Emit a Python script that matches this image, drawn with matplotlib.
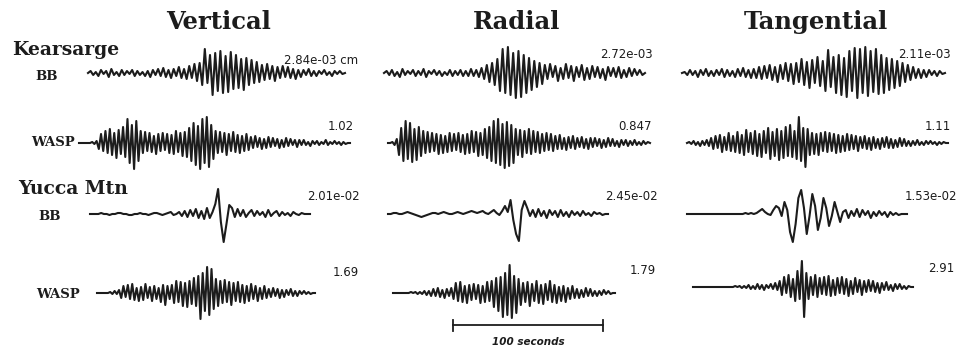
import numpy as np
import matplotlib.pyplot as plt

#---------------Data (trace amplitudes, arbitrary units)---------

components = ["Vertical", "Radial", "Tangential"]
stations = ["Kearsarge", "Yucca Mtn"]
instruments = ["BB", "WASP", "BB", "WASP"]

# peak amplitude printed beside each trace, row by row
amp_labels = [["2.84e-03 cm", "2.72e-03", "2.11e-03"],
              ["1.02", "0.847", "1.11"],
              ["2.01e-02", "2.45e-02", "1.53e-02"],
              ["1.69", "1.79", "2.91"]]

# Kearsarge broadband
kea_bb_vert = [0, 2, -2, 1, -3, 3, -1, 2, -4, 4, -2, 1, -3, 3, -2, 2, -1, 3, -3, 2, -2, 1, -3, 2,
               -4, 3, -2, 4, -3, 5, -4, 3, -5, 4, -3, 6, -5, 4, -6, 7, -5,
               9, -8, 10, -12,
               24, -10, 18, -22, 20, -18, 22, -20, 17, -19, 21, -16, 18, -15, 14, -17, 15, -12, 13, -10, 11,
               -9, 8, -7, 9, -6, 7, -8, 6, -5, 7, -4, 6, -5, 4, -6, 3,
               -4, 3, -2, 4, -3, 2, -3, 2, -1, 3, -2, 1, -3, 2, -1, 2, -1, 0]
kea_bb_rad = [0, 2, -2, 3, -3, 1, -4, 4, -2, 2, -1, 3, -3, 2, -2, 4, -4, 2, -1, 3,
              -2, 2, -3, 1, -2, 3, -3, 2, -2, 3, -3, 2, -3, 4, -3, 3, -4,
              5, -6, 8, -9, 10, -12, 14,
              -18, 24, -20, 26, -22, 20, -25, 22, -24, 18, -20, 15, -17, 12, -14, 10, -11,
              8, -6, 9, -4, 7, -8, 5, -6, 9, -5, 7, -8, 6, -4, 8, -7, 5, -6, 7, -4,
              6, -5, 4, -7, 6, -3, 5, -4, 6, -5, 3, -4, 5, -3, 4, -2, 3, -2, 0]
kea_bb_tan = [0, 1, -2, 3, -2, 2, -4, 3, -2, 4, -3, 2, -3, 3, -2, 4, -4, 3, -3, 2,
              -4, 4, -3, 5, -4, 3, -5, 4, -5, 6,
              -6, 7, -5, 8, -7, 6, -9, 8, -6, 10, -8, 9, -11, 10, -9,
              14, -12, 11, -15, 13, -10, 16, -13, 12, -18, 23, -14,
              16, -20, 18, -22, 15, -24, 22, -18, 25, -25, 24, -20, 26, -23, 22, -19, 24, -21, 18, -20,
              15, -17, 14, -15, 12, -13,
              10, -9, 8, -7, 6, -5, 4, -5, 3, -4, 3, -2, 2, -3, 2, -1, 0]

# Kearsarge WASP
kea_wasp_vert = [0, 0, 0, 0, 0, 0, 1, -1, 2,
                 -6, 9, -8, 12, -10, 14, -12, 10, -15, 13, -11, 16, -14,
                 24, -20, 18, -26, 22, -18,
                 12, -10, 11, -8, 10, -9, 7, -11, 9, -8, 10, -7, 9, -10, 8, -11, 12, -9, 10, -13, 11, -14, 15,
                 -18, 20, -22, 17, -26, 24, -20, 26, -24, 18, -16,
                 12, -10, 11, -9, 10, -12, 9, -8, 11, -9, 8, -10, 7, -8, 9, -7,
                 6, -5, 7, -4, 5, -6, 4, -5, 6, -4, 5, -3, 4, -5, 3, -4, 5, -3, 4, -2, 3, -4, 3,
                 -2, 3, -2, 1, -3, 2, -1, 2, -2, 1, -1, 3, -2, 1, -1, 2, -1, 1, -2, 1, -1, 0, 0]
kea_wasp_rad = [0, 0, 1, -2, 4,
                -12, 15, -18, 22, -16, 20, -19, 14, -17, 16, -13, 12, -10, 11,
                -9, 10, -8, 9, -11, 8, -10, 7, -9, 10, -8, 9, -7, 10, -9, 8, -11, 9, -10, 12,
                -9, 11, -13, 10, -12, 14, -15, 16,
                -18, 22, -20, 24, -22, 19, -25, 21, -23, 18, -20,
                14, -12, 13, -14, 12, -10, 14, -11, 12, -9, 11, -10, 9, -8, 10, -7, 9, -8, 7, -6, 8,
                -6, 5, -7, 6, -5, 7, -6, 5, -4, 6, -5, 4, -6, 5, -4, 5, -3, 4, -5, 3,
                -4, 5, -3, 4, -3, 2, -4, 3, -2, 3, -3, 2, -2, 3, -2, 1, -2, 2, -1, 1, 0]
kea_wasp_tan = [0, 1, -1, 2, -2, 1, -3, 2, -2, 3, -3,
                5, -6, 7, -5, 8, -9, 6, -7, 10, -8, 7, -9, 11, -10, 8, -12, 13, -9, 10, -11, 12, -13, 9,
                -14, 12, -10, 15, -16, 11, -13, 14, -17, 12, -15, 16, -13, 18, -14, 12, -16, 26, -18, 15, -24, 14,
                -12, 10, -11, 9, -12, 10, -8, 11, -9, 10, -8, 9, -10, 8, -9, 7, -8, 9, -7, 8, -6, 7, -8,
                6, -5, 7, -6, 5, -7, 6, -5, 4, -6, 5, -4, 6, -5, 4, -5, 3, -4, 5, -3, 4, -3, 2,
                -3, 2, -2, 3, -2, 1, -2, 2, -1, 2, -1, 1, -2, 1, -1, 1, 0, 0]

# Yucca Mtn broadband
yuc_bb_vert = [0, 0, 0, 0, 1, 0, 0, -1, 0, 0, 1, 1, 0, 0, -1, -1, 0, 0, 1, 0, 0, -1, 0, 1, 1, 0, -1, 0, 1,
               2, -1, 0, 2, -2, 3, -3, 4, -2, 5, -4, 3, -5, 6, -4,
               2, 10, 25, -8, -28, -10, 9, 6, -3,
               5, -2, 4, -3, 1, 4, -2, 3, -1, 2, -3, 4, -2, 1, 3, -2, 2, -1, 1, -2, 2, 0, -1, 1, 0, 0, 0]
yuc_bb_rad = [0, 0, 1, 1, 0, 0, 1, 2, 1, 0, -1, -2, -3, -2, -1, 0, 1, 1, 0, 1, 2, 1, 0, 0, 1, 2, 1, 0,
              1, 2, 3, 2, 1, 2, 3, 1, 0, 2, 4, 1, -1, 3,
              8, 2, 14, -6, -20, -27, 4, 13, 6,
              -2, 4, -3, 5, -2, 3, -4, 4, -1, 3, -3, 4, -2, 2, -3, 3, -1, 2, -2, 3, -1, 1, -2, 2, 0, 1, -1, 0, 0]
yuc_bb_tan = [0, 0, 0, 0, 0, 0, 0, 0, 0, 0, 0, 0, 0, 0, 0, 0, 0, 0, 0, 0, 0, 1, 0, 1, 0, 1,
              3, 5, 2, 0, -1, 4, 8, 6, -2,
              12, 4, -18, -28, -10, 16, 24, 6, -20, -2, 20, 8, -16, -4, 16, 6, -12, -2, 12, 2, -8, 2,
              4, -4, 3, -2, 5, -3, 4, -1, 3, -4, 2, -2, 3, -1, 2, -3, 2, -1, 1, -1, 0, 0, 0]

# Yucca Mtn WASP
yuc_wasp_vert = [0, 0, 0, 0, 0, 0, 1, -1, 2, -1, 3,
                 -5, 7, -4, 8, -6, 9, -7, 5, -8, 6, -7, 9, -5, 6, -8, 7, -6, 5, -9, 8, -12, 7, -6,
                 8, -10, 12, -9, 11, -13, 10, -14, 12, -11, 15, -13, 17,
                 -26, 20, -18, 26, -22, 24, -16, 14,
                 -13, 12, -10, 13, -9, 11, -12, 10, -8, 11, -9, 8, -10, 7, -8, 9, -6, 7, -8, 5, -6, 7, -5, 4,
                 -4, 5, -3, 4, -5, 3, -4, 3, -2, 4, -3, 2, -3, 2, -1, 2, -1, 1, -1, 0, 0]
yuc_wasp_rad = [0, 0, 0, 0, 0, 0, 0, 0, 1, 0, 1, -1, 1, -1, 2, -2, 2,
                -3, 4, -3, 5, -4, 3, -5, 4, -3, 5, -6,
                10, -8, 11, -9, 7, -10, 8,
                -7, 9, -6, 8, -10, 7, -9, 11, -8, 12, -14,
                15, -18, 16, -24, 20, -22, 28, -25, 17, -20, 14,
                -12, 10, -9, 11, -13, 9, -8, 12, -10, 8, -11, 9, -7, 12, -9, 8, -10, 6, -8, 7, -9, 5, -6, 7, -5,
                4, -5, 3, -4, 5, -3, 4, -3, 2, -3, 2, -2, 3, -1, 2, -1, 0, 0]
yuc_wasp_tan = [0, 0, 0, 0, 0, 0, 0, 0, 0, 0, 0, 0, 0, 0, 0, 0, 0, 0, 0, 1, 0, 1, -1, 1, -1, 2,
                -2, 1, -2, 3, -2, 2, -3, 2, -1, 3, -2, 4, -3, 6,
                -8, 10, -6, 12, -10, 8, -14, 16, -12, 26, -30,
                14, -12, 10, -8, 12, -10, 9, -7, 10, -8, 11, -9, 7, -8, 9, -6, 10, -7, 8, -9,
                6, -7, 9, -5, 7, -8, 6, -5, 7, -4, 6, -5, 4, -6,
                4, -3, 5, -3, 2, -4, 3, -2, 3, -2, 1, -2, 1, 0, 0]

traces = [[kea_bb_vert, kea_bb_rad, kea_bb_tan],
          [kea_wasp_vert, kea_wasp_rad, kea_wasp_tan],
          [yuc_bb_vert, yuc_bb_rad, yuc_bb_tan],
          [yuc_wasp_vert, yuc_wasp_rad, yuc_wasp_tan]]

#---------------Layout (figure pixels, y from top)----------------------

W, H = 976, 349
spans = [[(88, 345), (384, 645), (682, 945)],
         [(79, 350), (388, 650), (687, 948)],
         [(90, 310), (388, 608), (687, 907)],
         [(97, 315), (393, 615), (693, 913)]]
bases = [[73, 73, 73], [143, 143, 143], [214, 214, 214], [293, 293, 287]]
amp_pos = [[(284, 60), (600, 54), (898, 54)],
           [(328, 126), (618, 126), (925, 126)],
           [(307, 196), (605, 196), (905, 196)],
           [(333, 272), (630, 270), (928, 268)]]
header_x = [219, 517, 816]
station_pos = [(12, 50), (18, 189)]
instr_pos = [(35, 76), (31, 143), (38, 217), (36, 295)]

ink = "#1c1c1c"

fig = plt.figure(figsize=(W / 100, H / 100), dpi=100)
fig.patch.set_facecolor("white")

# overlay in pixel units for the lettering and the time bar
ax0 = fig.add_axes([0, 0, 1, 1])
ax0.set_xlim(0, W)
ax0.set_ylim(H, 0)
ax0.axis("off")

for cx, name in zip(header_x, components):
    ax0.text(cx, 22, name, ha="center", va="center", fontsize=17.5,
             family="DejaVu Serif", weight="bold", color=ink)

for (sx, sy), name in zip(station_pos, stations):
    ax0.text(sx, sy, name, ha="left", va="center", fontsize=13.5,
             family="DejaVu Serif", weight="bold", color=ink)

for (ix, iy), name in zip(instr_pos, instruments):
    ax0.text(ix, iy, name, ha="left", va="center", fontsize=9.5,
             family="DejaVu Serif", weight="bold", color=ink)

for r in range(4):
    for c in range(3):
        ax0.text(amp_pos[r][c][0], amp_pos[r][c][1], amp_labels[r][c],
                 ha="left", va="center", fontsize=8.5, color=ink)

# 100 second scale bar
ax0.plot([453, 603], [325, 325], color=ink, lw=1.3)
ax0.plot([453, 453], [320, 331], color=ink, lw=1.3)
ax0.plot([603, 603], [320, 331], color=ink, lw=1.3)
ax0.text(528, 342, "100 seconds", ha="center", va="center", fontsize=7.5,
         style="italic", weight="bold", color=ink)

#---------------Traces-------------------------------------------------

half = 35
for r in range(4):
    for c in range(3):
        vals = np.array(traces[r][c], dtype=float)
        x0, x1 = spans[r][c]
        yc = bases[r][c]
        ax = fig.add_axes([x0 / W, 1 - (yc + half) / H, (x1 - x0) / W, 2 * half / H])
        ax.plot(np.arange(len(vals)), vals, color=ink, lw=1.5, clip_on=False)
        ax.set_xlim(0, len(vals) - 1)
        ax.set_ylim(-half, half)
        ax.axis("off")

fig.savefig("out.png", dpi=100, facecolor="white")
